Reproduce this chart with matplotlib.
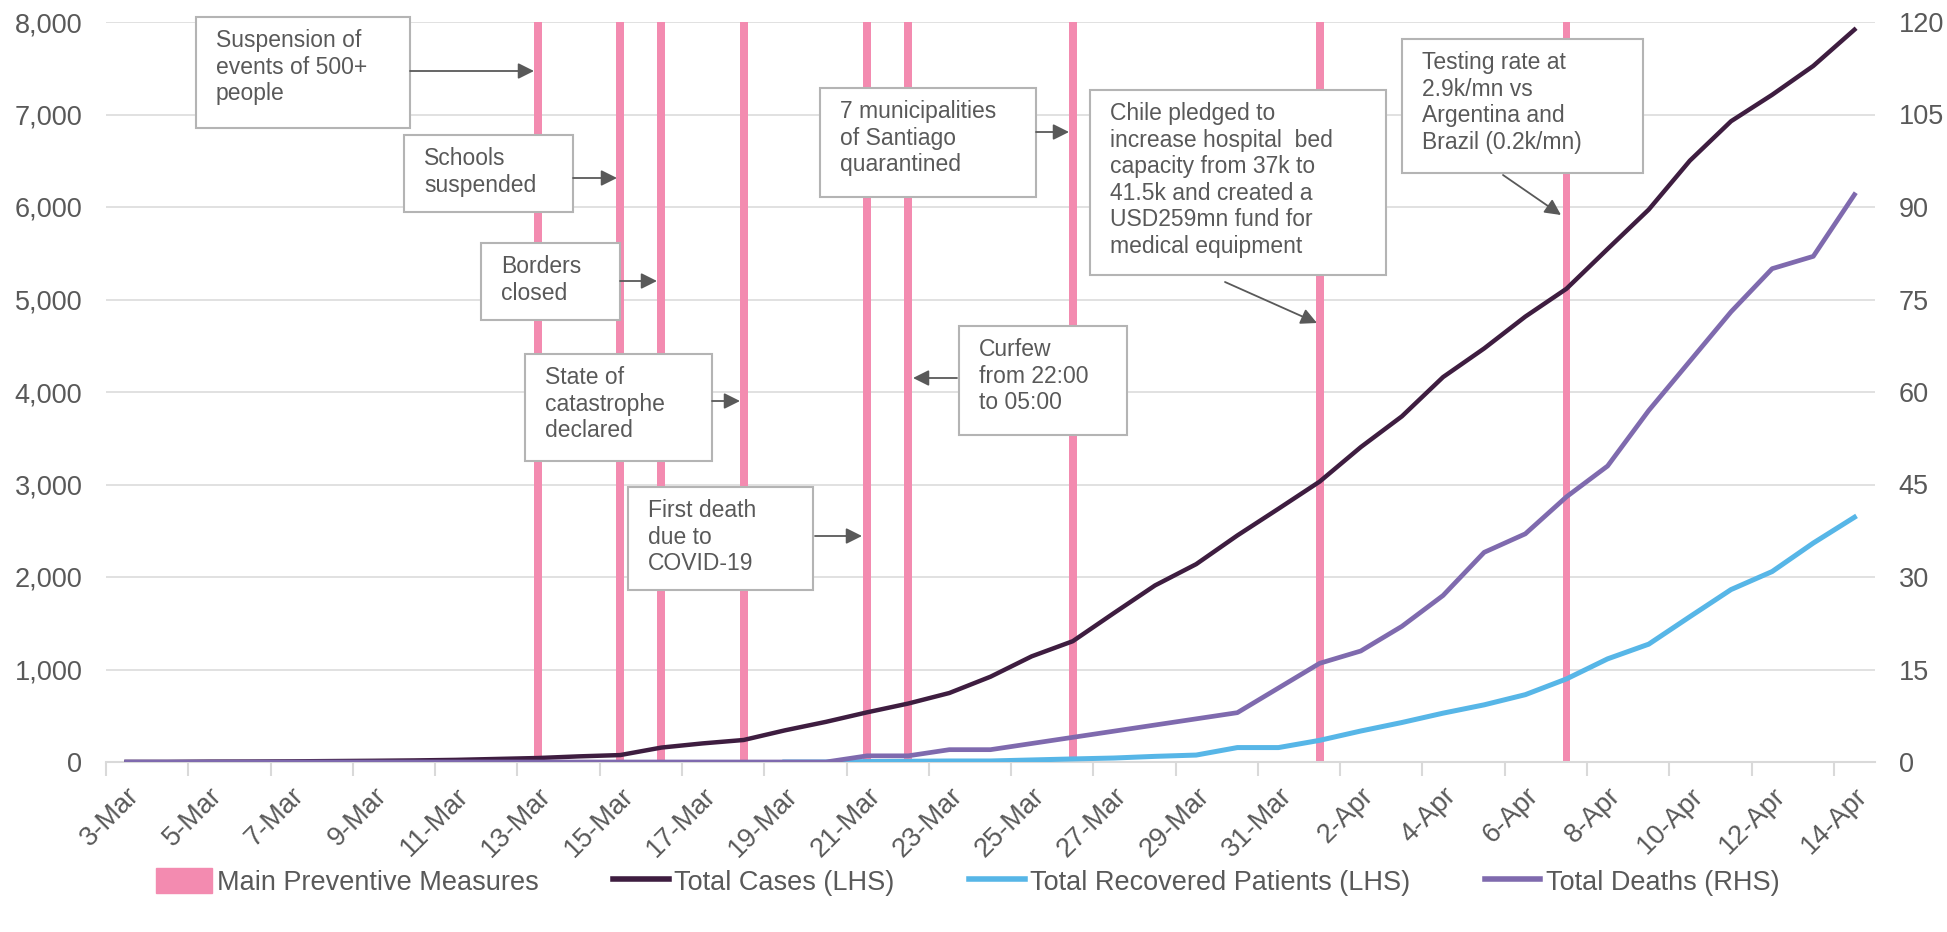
import matplotlib.pyplot as plt
from matplotlib.patches import Rectangle, Patch
from matplotlib.lines import Line2D
from matplotlib.transforms import Affine2D
from matplotlib.ticker import FuncFormatter

plt.rcParams['font.family'] = ['Liberation Sans', 'DejaVu Sans']

# daily series, 3-Mar to 14-Apr
days = [f'{d}-Mar' for d in range(3, 32)] + [f'{d}-Apr' for d in range(1, 15)]

total_cases = [1, 1, 4, 5, 7, 10, 13, 17, 23, 33,
               43, 61, 75, 156, 201, 238, 342, 434, 537, 632,
               746, 922, 1142, 1306, 1610, 1909, 2139, 2449, 2738,
               3031, 3404, 3737, 4161, 4471, 4815, 5116, 5546, 5972,
               6501, 6927, 7213, 7525, 7917]

total_recovered = [None] * 16 + [0, 0, 5, 8, 11, 11, 22, 33, 43, 61, 75, 156, 156,
                                 234, 335, 427, 528, 618, 728, 898, 1115, 1274,
                                 1571, 1864, 2059, 2367, 2646]

total_deaths = [0] * 18 + [1, 1, 2, 2, 3, 4, 5, 6, 7, 8, 12,
                           16, 18, 22, 27, 34, 37, 43, 48, 57, 65, 73, 80, 82, 92]

measure_days = ['13-Mar', '15-Mar', '16-Mar', '18-Mar', '21-Mar',
                '22-Mar', '26-Mar', '1-Apr', '7-Apr']
measure_top = 8000

# callout text, box (x0, y0, x1, y1) and arrow (start, tip) in figure pixels
notes = [
    ("Suspension of\nevents of 500+\npeople", (196, 17, 410, 128), (410, 71), (534, 71)),
    ("Schools\nsuspended", (404, 135, 573, 212), (573, 178), (617, 178)),
    ("Borders\nclosed", (481, 243, 620, 320), (620, 281), (657, 281)),
    ("State of\ncatastrophe\ndeclared", (525, 354, 712, 461), (712, 401), (740, 401)),
    ("First death\ndue to\nCOVID-19", (628, 487, 813, 590), (815, 536), (862, 536)),
    ("7 municipalities\nof Santiago\nquarantined", (820, 88, 1036, 197), (1036, 132), (1069, 132)),
    ("Curfew\nfrom 22:00\nto 05:00", (959, 326, 1127, 435), (957, 378), (913, 378)),
    ("Chile pledged to\nincrease hospital  bed\ncapacity from 37k to\n41.5k and created a\n"
     "USD259mn fund for\nmedical equipment", (1090, 90, 1386, 275), (1225, 282), (1317, 323)),
    ("Testing rate at\n2.9k/mn vs\nArgentina and\nBrazil (0.2k/mn)", (1402, 39, 1643, 173),
     (1503, 175), (1561, 215)),
]

PINK = '#F38BB0'
CASES = '#3E1D40'
RECOV = '#57B6E7'
DEATH = '#7F6AAE'
GREY = '#595959'
GRID = '#D9D9D9'

W, H = 1947, 932
fig = plt.figure(figsize=(W / 100, H / 100), dpi=100)
ax = fig.add_axes([106 / W, 170 / H, (1875 - 106) / W, (762 - 22) / H])
ax2 = ax.twinx()

x = list(range(len(days)))
mx = [days.index(d) for d in measure_days]
ax.bar(mx, [measure_top] * len(mx), width=0.19, color=PINK, zorder=2)
ax.plot(x, total_cases, color=CASES, lw=3.2, zorder=3)
rec = [float('nan') if v is None else v for v in total_recovered]
ax.plot(x, rec, color=RECOV, lw=3.6, zorder=3)
ax2.plot(x, total_deaths, color=DEATH, lw=3.4, zorder=3)

ax.set_xlim(-0.5, len(days) - 0.5)
ax.set_ylim(0, 8000)
ax2.set_ylim(0, 120)
ax.set_yticks(range(0, 8001, 1000))
ax2.set_yticks(range(0, 121, 15))
ax.yaxis.set_major_formatter(FuncFormatter(lambda v, p: f'{v:,.0f}'))
ax.grid(axis='y', color=GRID, lw=1.1)
ax.set_axisbelow(True)

for a in (ax, ax2):
    for s in ('top', 'left', 'right', 'bottom'):
        a.spines[s].set_visible(False)
ax.spines['bottom'].set_visible(True)
ax.spines['bottom'].set_color(GRID)
ax.spines['bottom'].set_linewidth(1.5)

# tick marks between every other day, labels on the days themselves
ax.set_xticks([i - 0.5 for i in range(0, len(days), 2)], labels=[''] * len(range(0, len(days), 2)))
ax.set_xticks(range(0, len(days), 2), labels=days[::2], minor=True)
for lab in ax.get_xticklabels(minor=True):
    lab.set_rotation(45)
    lab.set_ha('right')
    lab.set_va('top')
    lab.set_rotation_mode('anchor')
ax.tick_params(axis='x', which='major', length=10, width=1.5, color=GRID)
ax.tick_params(axis='x', which='minor', length=0, pad=15, labelsize=19.5, labelcolor=GREY)
ax.tick_params(axis='y', length=0, pad=17, labelsize=19.5, labelcolor=GREY)
ax2.tick_params(axis='y', length=0, pad=17, labelsize=19.5, labelcolor=GREY)

# callouts
px = Affine2D().scale(1 / W, -1 / H).translate(0, 1) + fig.transFigure
for text, (x0, y0, x1, y1), start, tip in notes:
    ax2.add_patch(Rectangle((x0, y0), x1 - x0, y1 - y0, transform=px, fc='white',
                            ec='#B4B4B4', lw=1.5, zorder=10, clip_on=False))
    ax2.text(x0 + 20, y0 + 12, text, transform=px, ha='left', va='top',
             fontsize=16.5, color=GREY, linespacing=1.2, zorder=11, clip_on=False)
    ax2.annotate('', xy=tip, xycoords=px, xytext=start, textcoords=px,
                 arrowprops=dict(arrowstyle='-|>', color=GREY, lw=1.3,
                                 mutation_scale=24, shrinkA=0, shrinkB=0),
                 zorder=11, annotation_clip=False)

handles = [Patch(color=PINK, label='Main Preventive Measures'),
           Line2D([], [], color=CASES, lw=4, label='Total Cases (LHS)'),
           Line2D([], [], color=RECOV, lw=4, label='Total Recovered Patients (LHS)'),
           Line2D([], [], color=DEATH, lw=4, label='Total Deaths (RHS)')]
fig.legend(handles=handles, loc='center', bbox_to_anchor=(0.497, 50 / H), ncol=4,
           frameon=False, fontsize=19.5, handlelength=2.05, handleheight=1.0,
           handletextpad=0.2, columnspacing=2.75, labelcolor=GREY)

fig.savefig('out.png', dpi=100)
